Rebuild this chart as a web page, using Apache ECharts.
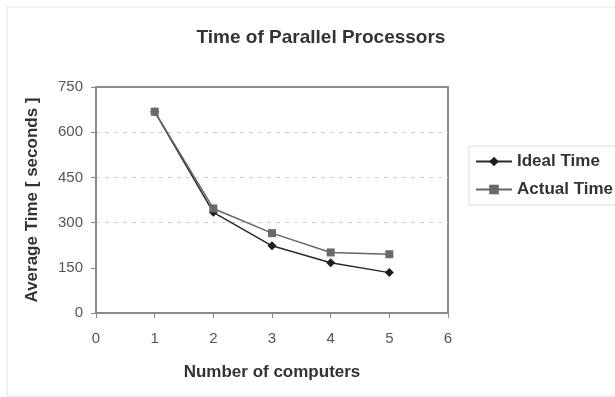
<!DOCTYPE html>
<html>
<head>
<meta charset="utf-8">
<script src="https://cdn.jsdelivr.net/npm/echarts@6/dist/echarts.min.js"></script>
<style>
  html, body { margin: 0; padding: 0; background: #fff; }
  #chart { width: 615px; height: 397px; }
</style>
</head>
<body>
<div id="chart"></div>
<script>
// Average run time versus number of computers
const computers = [1, 2, 3, 4, 5];
const idealTime = [668, 334, 223, 167, 134];
const actualTime = [668, 347, 265, 201, 195];
const yTicks = [0, 150, 300, 450, 600, 750];
const xTicks = [0, 1, 2, 3, 4, 5, 6];

const font = 'Liberation Sans, Arial, sans-serif';

const chart = echarts.init(document.getElementById('chart'), null, { renderer: 'canvas' });

// gridlines only at the middle ticks (300, 450, 600)
const gridColors = yTicks.map(v => (v >= 300 && v < 750) ? '#cfcfcf' : 'rgba(0,0,0,0)');

chart.setOption({
  backgroundColor: '#ffffff',
  animation: false,
  title: {
    text: 'Time of Parallel Processors',
    left: 316,
    top: 23,
    textAlign: 'center',
    textStyle: { fontFamily: font, fontSize: 19, fontWeight: 'bold', color: '#333' }
  },
  graphic: [{
    type: 'rect',
    shape: { x: 7, y: 7, width: 620, height: 389 },
    style: { fill: 'none', stroke: '#e2e2e2', lineWidth: 1 },
    silent: true
  }],
  grid: {
    left: 96, right: 167, top: 87, bottom: 84,
    show: true, borderColor: '#8a8a8a', borderWidth: 2, backgroundColor: 'transparent'
  },
  legend: {
    orient: 'vertical',
    left: 469,
    top: 146,
    itemWidth: 36,
    itemHeight: 12,
    itemGap: 11,
    padding: [7, 10, 7, 6],
    borderColor: '#dddddd',
    borderWidth: 1,
    textStyle: { fontFamily: font, fontSize: 17, fontWeight: 'bold', color: '#333' },
    data: ['Ideal Time', 'Actual Time']
  },
  xAxis: {
    type: 'value',
    min: xTicks[0],
    max: xTicks[xTicks.length - 1],
    interval: 1,
    name: 'Number of computers',
    nameLocation: 'middle',
    nameGap: 51,
    nameTextStyle: { fontFamily: font, fontSize: 17, fontWeight: 'bold', color: '#333' },
    axisLine: { show: true, lineStyle: { color: '#8a8a8a', width: 2 } },
    axisTick: { show: true, length: 5, lineStyle: { color: '#8a8a8a' } },
    axisLabel: { fontFamily: font, fontSize: 15, color: '#555', margin: 18 },
    splitLine: { show: false }
  },
  yAxis: {
    type: 'value',
    min: yTicks[0],
    max: yTicks[yTicks.length - 1],
    interval: 150,
    name: 'Average Time [ seconds ]',
    nameLocation: 'middle',
    nameGap: 55,
    nameTextStyle: { fontFamily: font, fontSize: 17, fontWeight: 'bold', color: '#333' },
    axisLine: { show: true, lineStyle: { color: '#8a8a8a', width: 2 } },
    axisTick: { show: true, length: 5, lineStyle: { color: '#8a8a8a' } },
    axisLabel: { fontFamily: font, fontSize: 15, color: '#555', margin: 13 },
    splitLine: { show: true, lineStyle: { color: gridColors, type: [4, 5], width: 1 } }
  },
  series: [
    {
      name: 'Ideal Time',
      type: 'line',
      data: computers.map((c, i) => [c, idealTime[i]]),
      symbol: 'diamond',
      symbolSize: 9,
      lineStyle: { color: '#2a2a2a', width: 1.5 },
      itemStyle: { color: '#1e1e1e' }
    },
    {
      name: 'Actual Time',
      type: 'line',
      data: computers.map((c, i) => [c, actualTime[i]]),
      symbol: 'rect',
      symbolSize: 8,
      lineStyle: { color: '#666', width: 1.5 },
      itemStyle: { color: '#6a6a6a' }
    }
  ]
});
</script>
</body>
</html>
